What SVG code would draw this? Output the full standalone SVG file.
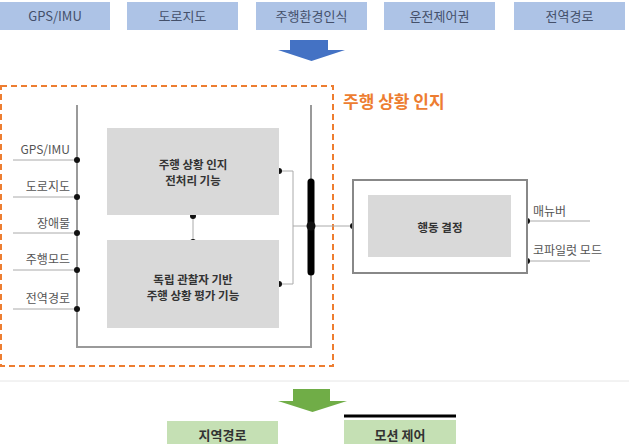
<svg xmlns="http://www.w3.org/2000/svg" width="629" height="444" viewBox="0 0 629 444">
<style>
text{font-family:"Noto Sans CJK KR","Noto Sans",sans-serif}
.top rect{fill:#adc3e6}
.top text{font-size:13px;fill:#44506a;text-anchor:middle}
.in{font-size:12px;fill:#555;text-anchor:end}
.out{font-size:12px;fill:#555}
.gbox{fill:#d9d9d9}
.gt{font-size:11.5px;font-weight:bold;fill:#333;text-anchor:middle}
.bus{stroke:#9a9a9a;stroke-width:2;fill:none}
.thin{stroke:#aaa;stroke-width:1;fill:none}
.dot{fill:#111}
.green rect{fill:#c5e0b4}
.green text{font-size:13px;font-weight:bold;fill:#333;text-anchor:middle}
</style>
<rect width="629" height="444" fill="#fff"/>
<g id="top-inputs" class="top">
<g id="in-gps"><rect x="0" y="2" width="110" height="28"/><text x="55" y="21">GPS/IMU</text></g>
<g id="in-map"><rect x="127" y="2" width="111" height="28"/><text x="182.5" y="21">도로지도</text></g>
<g id="in-env"><rect x="256" y="2" width="111" height="28"/><text x="311.5" y="21">주행환경인식</text></g>
<g id="in-ctrl"><rect x="384" y="2" width="111" height="28"/><text x="439.5" y="21">운전제어권</text></g>
<g id="in-route"><rect x="514" y="2" width="111" height="28"/><text x="569.5" y="21">전역경로</text></g>
</g>
<g id="blue-arrow"><polygon points="290,40 328,40 328,50 345,50 311.5,61 278,50 290,50" fill="#4472c4"/></g>
<g id="situation-awareness">
<rect x="1" y="86" width="332" height="280" fill="none" stroke="#ed7d31" stroke-width="2" stroke-dasharray="6,4"/>
<text x="343" y="108" font-size="17" font-weight="bold" fill="#ed7d31">주행 상황 인지</text>
</g>
<g id="connectors">
<path class="bus" d="M77,105 V347 H311 V105"/>
<path class="thin" d="M13,160 H77 M13,197 H77 M13,233 H77 M13,270 H77 M13,309 H77"/>
<path class="thin" d="M193,216 V242"/>
<path class="thin" d="M279,171 H293 V284 H279 M293,226 H353"/>
<path d="M311,182 V272" stroke="#000" stroke-width="7" stroke-linecap="round"/>
<path class="thin" d="M527,221 H590 M527,261 H590"/>
<g class="dot">
<circle cx="77" cy="160" r="3"/><circle cx="77" cy="197" r="3"/><circle cx="77" cy="233" r="3"/><circle cx="77" cy="270" r="3"/><circle cx="77" cy="309" r="3"/>
<circle cx="193" cy="216" r="3"/><circle cx="193" cy="242" r="3"/>
<circle cx="279" cy="171" r="3"/><circle cx="279" cy="284" r="3"/>
<circle cx="311" cy="226" r="4.5"/><circle cx="353" cy="226" r="3"/>
<circle cx="527" cy="221" r="3"/><circle cx="527" cy="261" r="3"/>
</g>
</g>
<g id="left-labels">
<text class="in" x="70" y="154">GPS/IMU</text>
<text class="in" x="70" y="191">도로지도</text>
<text class="in" x="70" y="228">장애물</text>
<text class="in" x="70" y="264">주행모드</text>
<text class="in" x="70" y="303">전역경로</text>
</g>
<g id="preprocess"><rect class="gbox" x="107" y="128" width="172" height="87"/><text class="gt" x="193" y="169">주행 상황 인지</text><text class="gt" x="193" y="185">전처리 기능</text></g>
<g id="evaluate"><rect class="gbox" x="107" y="240" width="172" height="88"/><text class="gt" x="193" y="284">독립 관찰자 기반</text><text class="gt" x="193" y="300">주행 상황 평가 기능</text></g>
<g id="decision">
<rect x="353" y="180" width="174" height="93" fill="#fff" stroke="#888" stroke-width="2"/>
<rect class="gbox" x="368" y="195" width="143" height="62"/>
<text class="gt" x="440" y="232" font-size="12.5">행동 결정</text>
</g>
<g id="right-labels">
<text class="out" x="533" y="216">매뉴버</text>
<text class="out" x="533" y="255">코파일럿 모드</text>
</g>
<line x1="0" y1="381" x2="629" y2="381" stroke="#e6e6e6" stroke-width="1"/>
<g id="green-arrow"><polygon points="293,389 330,389 330,401 347,401 312.5,412 278,401 293,401" fill="#70ad47"/></g>
<g class="green">
<g id="out-local"><rect x="167" y="421" width="111" height="30"/><text x="222.5" y="440">지역경로</text></g>
<g id="out-motion"><rect x="344" y="420" width="112" height="30"/><text x="400" y="440">모션 제어</text><line x1="344" y1="416" x2="456" y2="416" stroke="#000" stroke-width="3"/></g>
</g>
</svg>
